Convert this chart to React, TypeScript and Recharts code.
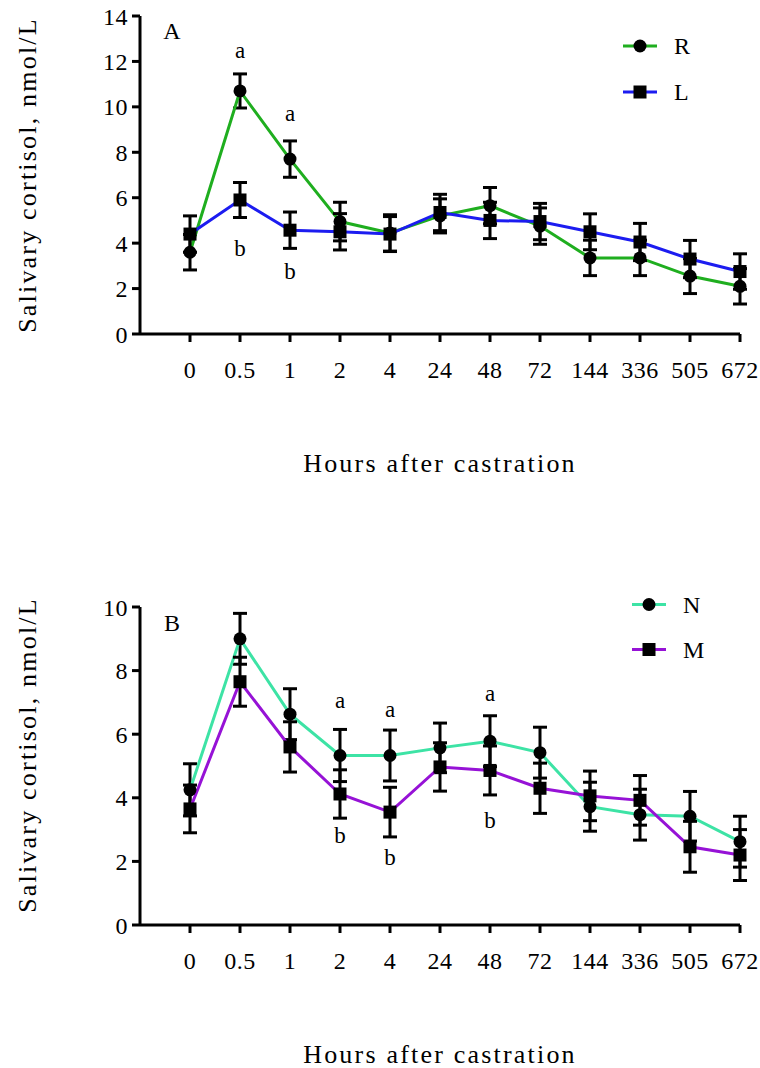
import React from 'react';
import { ComposedChart, Line, XAxis, YAxis, ErrorBar, Legend, ReferenceDot, Label } from 'recharts';

const FONT = '"Liberation Serif", "Times New Roman", serif';

// Tick labels (hours after castration)
const hours = ['0', '0.5', '1', '2', '4', '24', '48', '72', '144', '336', '505', '672'];

// Panel A
const rMean = [3.6, 10.7, 7.7, 4.95, 4.45, 5.2, 5.65, 4.75, 3.35, 3.35, 2.55, 2.1];
const rErr = [0.78, 0.75, 0.8, 0.85, 0.8, 0.75, 0.8, 0.8, 0.78, 0.78, 0.77, 0.78];
const lMean = [4.4, 5.9, 4.57, 4.5, 4.4, 5.35, 5.0, 4.95, 4.5, 4.05, 3.3, 2.75];
const lErr = [0.8, 0.77, 0.8, 0.8, 0.77, 0.8, 0.8, 0.8, 0.79, 0.82, 0.82, 0.78];

// Panel B
const nMean = [4.25, 9.0, 6.63, 5.33, 5.33, 5.57, 5.78, 5.42, 3.72, 3.47, 3.42, 2.62];
const nErr = [0.82, 0.8, 0.8, 0.82, 0.8, 0.78, 0.8, 0.8, 0.77, 0.8, 0.78, 0.8];
const mMean = [3.65, 7.65, 5.6, 4.12, 3.55, 4.97, 4.86, 4.3, 4.06, 3.92, 2.46, 2.2];
const mErr = [0.75, 0.77, 0.79, 0.76, 0.78, 0.76, 0.77, 0.79, 0.78, 0.78, 0.8, 0.8];

// Significance letters (x = index into hours, y = value position)
const lettersA = [
  { x: 1, y: 12.5, t: 'a' },
  { x: 2, y: 9.69, t: 'a' },
  { x: 1, y: 3.77, t: 'b' },
  { x: 2, y: 2.74, t: 'b' },
];
const lettersB = [
  { x: 3, y: 7.06, t: 'a' },
  { x: 4, y: 6.79, t: 'a' },
  { x: 6, y: 7.29, t: 'a' },
  { x: 3, y: 2.8, t: 'b' },
  { x: 4, y: 2.13, t: 'b' },
  { x: 6, y: 3.3, t: 'b' },
];

const ticksYA = [0, 2, 4, 6, 8, 10, 12, 14];
const ticksYB = [0, 2, 4, 6, 8, 10];
const xTicks = hours.map((_, i) => i);

const dataA = hours.map((h, i) => ({ x: i, r: rMean[i], rErr: rErr[i], l: lMean[i], lErr: lErr[i] }));
const dataB = hours.map((h, i) => ({ x: i, n: nMean[i], nErr: nErr[i], m: mMean[i], mErr: mErr[i] }));

const COLORS: Record<string, string> = { r: '#1fae1f', l: '#1c1cf0', n: '#3de3a5', m: '#9612d6' };
const SHAPES: Record<string, string> = { r: 'circle', l: 'square', n: 'circle', m: 'square' };
const ORDER: Record<string, number> = { r: 0, l: 1, n: 0, m: 1 };

const circleDot = (key: string) => (p: any) => (
  <circle key={`${key}-${p.index}`} cx={p.cx} cy={p.cy} r={6.5} fill="#000" />
);
const squareDot = (key: string) => (p: any) => (
  <rect key={`${key}-${p.index}`} x={p.cx - 6.5} y={p.cy - 6.5} width={13} height={13} fill="#000" />
);

const makeLegend = (rowH: number) => (props: any) => {
  const payload = [...(props.payload || [])].sort(
    (a: any, b: any) => (ORDER[a.dataKey] ?? 0) - (ORDER[b.dataKey] ?? 0)
  );
  return (
    <div style={{ fontFamily: FONT, fontSize: 24, color: '#000' }}>
      {payload.map((e: any) => {
        const key = e.dataKey as string;
        return (
          <div key={key} style={{ display: 'flex', alignItems: 'center', height: rowH }}>
            <svg width={34} height={rowH} style={{ display: 'block' }}>
              <line x1={0} y1={rowH / 2} x2={34} y2={rowH / 2} stroke={COLORS[key]} strokeWidth={3} />
              {SHAPES[key] === 'circle' ? (
                <circle cx={17} cy={rowH / 2} r={6.5} fill="#000" />
              ) : (
                <rect x={10.5} y={rowH / 2 - 6.5} width={13} height={13} fill="#000" />
              )}
            </svg>
            <span style={{ marginLeft: 17, lineHeight: 1 }}>{e.value}</span>
          </div>
        );
      })}
    </div>
  );
};

const yTitle = (dy: number) => (props: any) => {
  const vb = props.viewBox || { x: 0, y: 0, width: 0, height: 0 };
  const cx = vb.x + 27;
  const cy = vb.y + vb.height / 2 + dy;
  return (
    <text
      x={cx}
      y={cy}
      transform={`rotate(-90 ${cx} ${cy})`}
      textAnchor="middle"
      dominantBaseline="central"
      fill="#000"
      style={{ fontFamily: FONT, fontSize: 26, letterSpacing: 2.2 }}
    >
      Salivary cortisol, nmol/L
    </text>
  );
};

const xTitle = (props: any) => {
  const vb = props.viewBox || { x: 0, y: 0, width: 0, height: 0 };
  return (
    <text
      x={vb.x + vb.width / 2}
      y={vb.y + 138}
      textAnchor="middle"
      fill="#000"
      style={{ fontFamily: FONT, fontSize: 26, letterSpacing: 2.2 }}
    >
      Hours after castration
    </text>
  );
};

const pointText = (value: string, size: number) => (props: any) => {
  const vb = props.viewBox || { x: 0, y: 0, width: 0, height: 0 };
  const cx = vb.x + (vb.width || 0) / 2;
  const cy = vb.y + (vb.height || 0) / 2;
  return (
    <text
      x={cx}
      y={cy}
      textAnchor="middle"
      dominantBaseline="central"
      fill="#000"
      style={{ fontFamily: FONT, fontSize: size }}
    >
      {value}
    </text>
  );
};

const axisCommon = {
  stroke: '#000',
  axisLine: { stroke: '#000', strokeWidth: 3 },
  tickLine: { stroke: '#000', strokeWidth: 3 },
  tickSize: 8,
};

const tickStyle = { fill: '#000', fontSize: 24, fontFamily: FONT, letterSpacing: 0.5 };

function Panel(props: {
  data: any[];
  keys: [string, string];
  names: [string, string];
  yMax: number;
  yTicks: number[];
  letters: { x: number; y: number; t: string }[];
  panel: string;
  panelY: number;
  marginTop: number;
  marginBottom: number;
  legendTop: number;
  legendLeft: number;
  legendRowH: number;
  yTitleDy: number;
}) {
  const [k1, k2] = props.keys;
  return (
    <ComposedChart
      width={760}
      height={534}
      data={props.data}
      margin={{ top: props.marginTop, right: 20, left: 0, bottom: props.marginBottom }}
    >
      <XAxis
        type="number"
        dataKey="x"
        domain={[-1, 11]}
        ticks={xTicks}
        interval={0}
        tickFormatter={(v: number) => hours[v]}
        height={121}
        tickMargin={19}
        tick={tickStyle}
        {...axisCommon}
      >
        <Label content={xTitle} />
      </XAxis>
      <YAxis
        type="number"
        domain={[0, props.yMax]}
        ticks={props.yTicks}
        interval={0}
        width={140}
        tickMargin={4}
        tick={tickStyle}
        {...axisCommon}
      >
        <Label content={yTitle(props.yTitleDy)} />
      </YAxis>
      <Legend
        layout="horizontal"
        verticalAlign="middle"
        align="center"
        content={makeLegend(props.legendRowH)}
        wrapperStyle={{ left: props.legendLeft, top: props.legendTop, width: 120, height: props.legendRowH * 2 }}
      />
      <Line
        dataKey={k1}
        name={props.names[0]}
        stroke={COLORS[k1]}
        strokeWidth={3}
        isAnimationActive={false}
        dot={circleDot(k1)}
        activeDot={false}
      >
        <ErrorBar dataKey={`${k1}Err`} direction="y" width={7} strokeWidth={3} stroke="#000" isAnimationActive={false} />
      </Line>
      <Line
        dataKey={k2}
        name={props.names[1]}
        stroke={COLORS[k2]}
        strokeWidth={3}
        isAnimationActive={false}
        dot={squareDot(k2)}
        activeDot={false}
      >
        <ErrorBar dataKey={`${k2}Err`} direction="y" width={7} strokeWidth={3} stroke="#000" isAnimationActive={false} />
      </Line>
      {props.letters.map((lt, i) => (
        <ReferenceDot
          key={`lt-${i}`}
          x={lt.x}
          y={lt.y}
          r={0}
          fill="none"
          stroke="none"
          label={pointText(lt.t, 23)}
        />
      ))}
      <ReferenceDot
        x={-0.36}
        y={props.panelY}
        r={0}
        fill="none"
        stroke="none"
        label={pointText(props.panel, 24)}
      />
    </ComposedChart>
  );
}

export default function App() {
  return (
    <div style={{ position: 'absolute', left: 0, top: 0, width: 760, height: 1068, background: '#fff', fontFamily: FONT }}>
      <Panel
        data={dataA}
        keys={['r', 'l']}
        names={['R', 'L']}
        yMax={14}
        yTicks={ticksYA}
        letters={lettersA}
        panel="A"
        panelY={13.34}
        marginTop={16}
        marginBottom={79}
        legendTop={23}
        legendLeft={623}
        legendRowH={46}
        yTitleDy={0}
      />
      <Panel
        data={dataB}
        keys={['n', 'm']}
        names={['N', 'M']}
        yMax={10}
        yTicks={ticksYB}
        letters={lettersB}
        panel="B"
        panelY={9.51}
        marginTop={73}
        marginBottom={22}
        legendTop={48}
        legendLeft={632}
        legendRowH={45}
        yTitleDy={-11}
      />
    </div>
  );
}
